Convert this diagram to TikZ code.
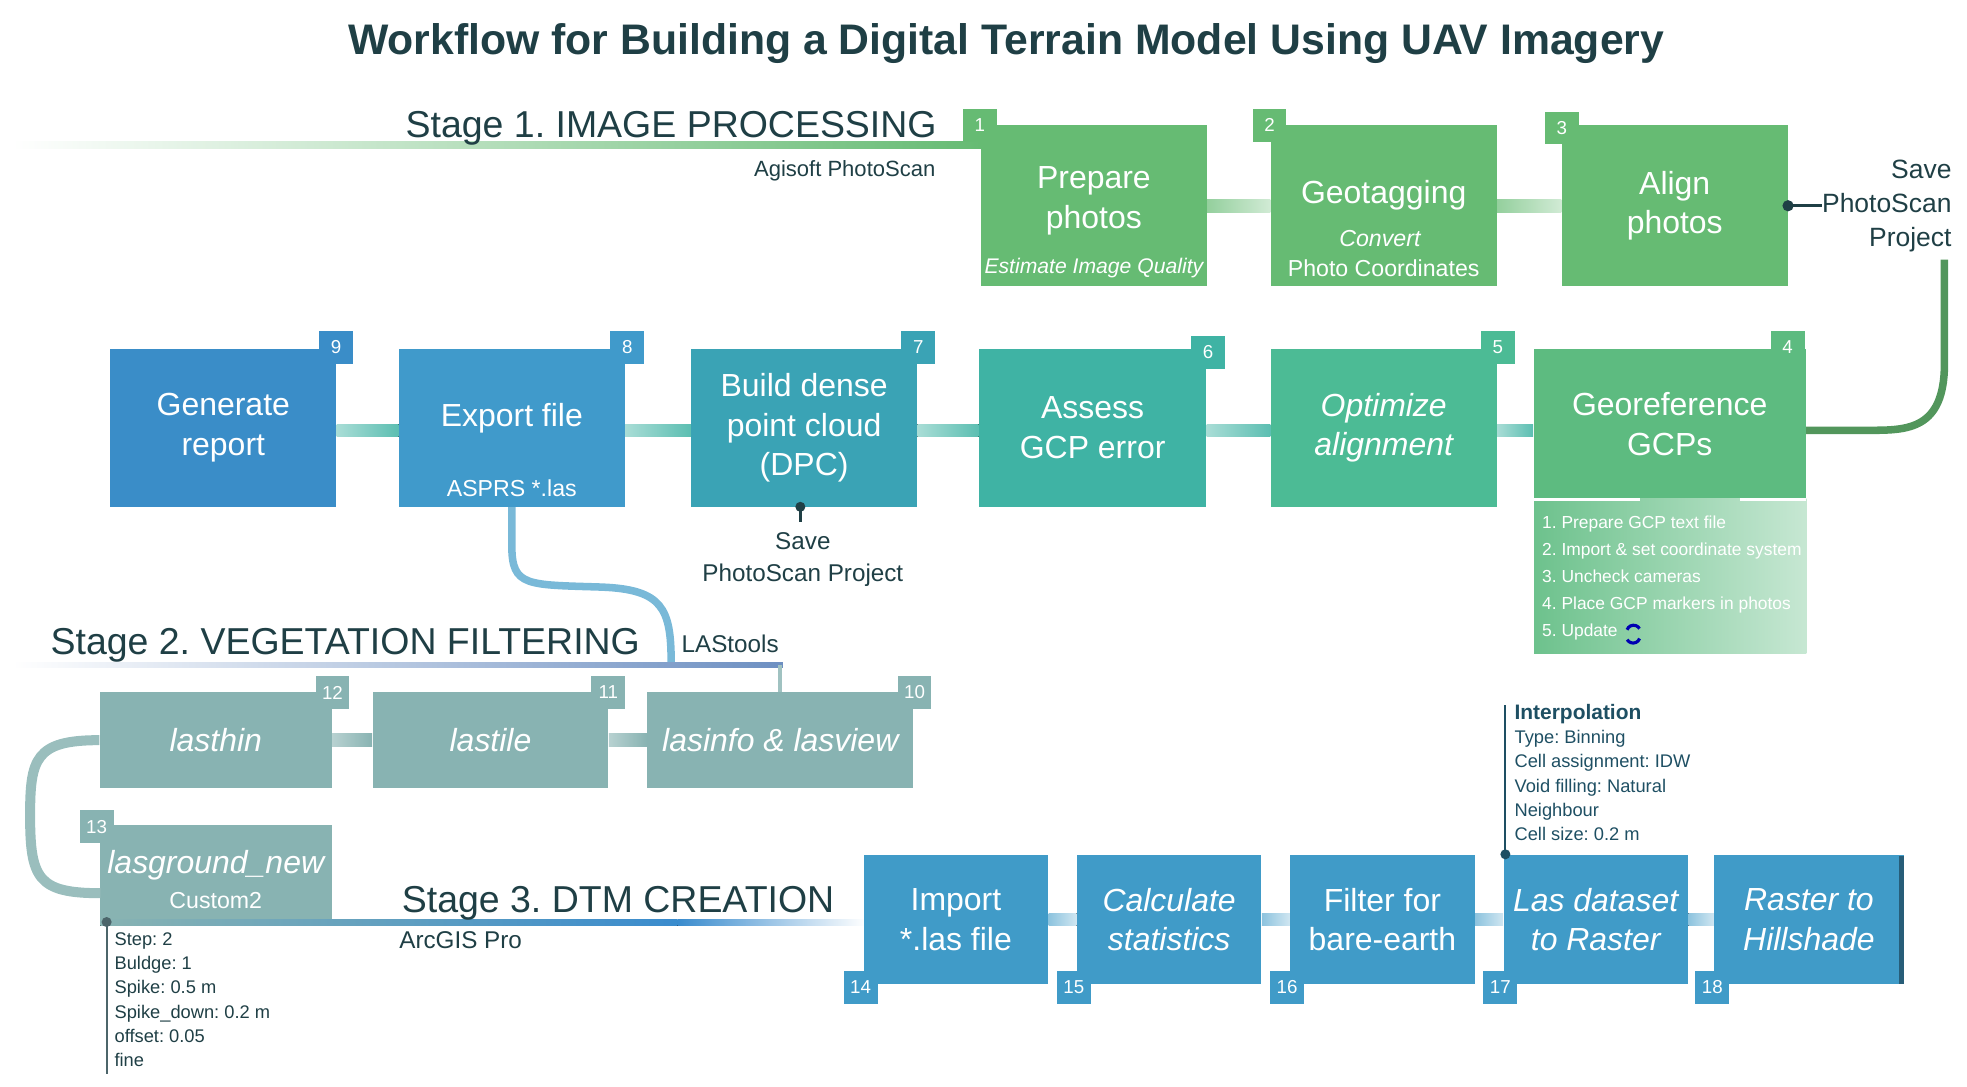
\documentclass[tikz,border=0pt]{standalone}
\usepackage{fontspec}
\setmainfont{Liberation Sans}
\usetikzlibrary{calc}
\definecolor{dk}{HTML}{1F3F45}
\definecolor{ca}{HTML}{66BB73}
\definecolor{cb4}{HTML}{5DBB80}
\definecolor{cb5}{HTML}{4CBB95}
\definecolor{cb6}{HTML}{3FB3A4}
\definecolor{cb7}{HTML}{3AA3B5}
\definecolor{cb8}{HTML}{409ACB}
\definecolor{cb9}{HTML}{3A8DC8}
\definecolor{cc}{HTML}{88B3B2}
\definecolor{cd}{HTML}{409BC8}
\definecolor{it}{HTML}{1E4F63}
\newcommand\fz[2]{\fontsize{#1}{#2}\selectfont}
\begin{document}
\frenchspacing
\begin{tikzpicture}[x=0.02cm,y=-0.02cm,
 box/.style={rectangle,inner sep=0,text=white,align=center,font=\fz{14.5}{18}},
 tab/.style={rectangle,inner sep=0,minimum width=0.54cm,minimum height=0.52cm,text=white,font=\fz{8.5}{10}},
 tx/.style={inner sep=0,text=white,align=center},
 small/.style={inner sep=0,text=dk,font=\fz{10}{12}},
 stage/.style={inner sep=0,text=dk,font=\fz{17}{20},anchor=base west}]
\useasboundingbox (0,0) rectangle (1568,866);
\node[inner sep=0,text=dk,font=\bfseries\fz{19.4}{22}] (title) at (802,35) {Workflow for Building a Digital Terrain Model Using UAV Imagery};

% ---------- Stage 1
\fill[left color=white,right color=ca] (10,113) rectangle (782,118);
\node[stage] (s1) at (323,110) {Stage 1. IMAGE PROCESSING};
\node[small,anchor=east] (ag) at (746,136) {Agisoft PhotoScan};

\node[box,fill=ca,minimum width=3.6cm,minimum height=2.56cm] (b1) at (872,164) {};
\node[box,fill=ca,minimum width=3.6cm,minimum height=2.56cm] (b2) at (1103,164) {};
\node[box,fill=ca,minimum width=3.6cm,minimum height=2.56cm] (b3) at (1335,164) {Align\\photos};
\node[tab,fill=ca] (t1) at (781,100) {1};
\node[tab,fill=ca] (t2) at (1012,100) {2};
\node[tab,fill=ca] (t3) at (1245,102) {3};
\node[tx,font=\fz{14.5}{18}] (b1t) at (872,160) {Prepare\\photos};
\node[tx,font=\itshape\fz{9.6}{12}] (b1s) at (872,214) {Estimate Image Quality};
\node[tx,font=\fz{14.5}{18}] (b2t) at (1103,156) {Geotagging};
\node[tx,font=\itshape\fz{10.5}{12}] (b2s) at (1100,190) {Convert};
\node[tx,font=\fz{10.5}{12}] (b2u) at (1103,214) {Photo Coordinates};
\fill[left color=ca!70,right color=ca!30] ($(b1.east)+(0,-5)$) rectangle ($(b2.west)+(0,5)$);
\fill[left color=ca!70,right color=ca!30] ($(b2.east)+(0,-5)$) rectangle ($(b3.west)+(0,5)$);
\node[inner sep=0,text=dk,align=right,anchor=east,font=\fz{12}{15.5}] (save1) at (1556,164) {Save\\PhotoScan\\Project};
\coordinate (s1e) at (1452,164);
\draw[dk,line width=0.05cm] (b3.east) -- (s1e);
\fill[dk] (b3.east) circle (4.5);

% ---------- Row 2
\node[box,fill=cb9,minimum width=3.6cm,minimum height=2.52cm] (b9) at (178,341) {Generate\\report};
\node[box,fill=cb8,minimum width=3.6cm,minimum height=2.52cm] (b8) at (408,341) {};
\node[box,fill=cb7,minimum width=3.6cm,minimum height=2.52cm] (b7) at (641,341) {Build dense\\point cloud\\(DPC)};
\node[box,fill=cb6,minimum width=3.62cm,minimum height=2.52cm] (b6) at (871,341) {Assess\\GCP error};
\node[box,fill=cb5,minimum width=3.6cm,minimum height=2.52cm] (b5) at (1103,341) {\itshape Optimize\\\itshape alignment};
\node[box,fill=cb4,minimum width=4.34cm,minimum height=2.38cm] (b4) at (1331,338) {Georeference\\GCPs};
\node[tab,fill=cb9] (t9) at (268,277) {9};
\node[tab,fill=cb8] (t8) at (500,277) {8};
\node[tab,fill=cb7] (t7) at (732,277) {7};
\node[tab,fill=cb6] (t6) at (963,281) {6};
\node[tab,fill=cb5] (t5) at (1194,277) {5};
\node[tab,fill=cb4] (t4) at (1425,277) {4};
\node[tx,font=\fz{14.5}{18}] (b8t) at (408,333) {Export file};
\node[tx,font=\fz{10.5}{12}] (b8s) at (408,389) {ASPRS *.las};
\shade[left color=cb4!90,right color=cb4!35] (1223,397) rectangle (1440,521);
\draw[white,line width=0.04cm] (1223,398) -- (1307,398) (1387,398) -- (1440,398);
\node[inner sep=0,text=white,align=left,anchor=north west,font=\fz{7.9}{12.2}] (list) at (1229,411)
 {1. Prepare GCP text file\\2. Import \& set coordinate system\\3. Uncheck cameras\\4. Place GCP markers in photos\\5. Update};
\draw[blue!70!black,line width=0.05cm] (1297,502) arc (200:330:5.5);
\draw[blue!70!black,line width=0.05cm] (1307,509) arc (20:150:5.5);

\foreach \a/\b in {b9/b8,b8/b7,b7/b6,b6/b5,b5/b4}
 \fill[left color=cb6!45,right color=cb6!85] ($(\a.east)+(0,-3)$) rectangle ($(\b.west |- \a.east)+(0,7)$);

\draw[ca!80!black,line width=0.12cm] (1550,207) -- (1550,290) .. controls (1550,343) and (1520,343) .. (1490,343) -- (b4.east |- 0,343);

\coordinate (d7) at (638,404);
\coordinate (sv7) at (638,416);
\draw[dk,line width=0.05cm] (d7) -- (sv7);
\fill[dk] (d7) circle (4);
\node[inner sep=0,text=dk,align=center,font=\fz{11}{14.5}] (save2) at (640,446) {Save\\PhotoScan Project};

% ---------- Stage 2
\draw[cd!70,line width=0.12cm] (b8.south) -- (408,435) .. controls (408,468) and (420,466) .. (480,468) .. controls (528,470) and (535,485) .. (535,528);
\fill[left color=white,right color=cc!80!blue] (10,528) rectangle (624,532);
\node[stage] (s2) at (40,522) {Stage 2. VEGETATION FILTERING};
\node[small,anchor=base west,font=\fz{11}{13}] (las) at (543,520) {LAStools};

\node[box,fill=cc,minimum width=3.7cm,minimum height=1.52cm,font=\itshape\fz{14.5}{18}] (b12) at (172,590) {lasthin};
\node[box,fill=cc,minimum width=3.76cm,minimum height=1.52cm,font=\itshape\fz{14.5}{18}] (b11) at (391,590) {lastile};
\node[box,fill=cc,minimum width=4.24cm,minimum height=1.52cm,font=\itshape\fz{14.5}{18}] (b10) at (622,590) {lasinfo \& lasview};
\node[box,fill=cc,minimum width=3.7cm,minimum height=1.54cm] (b13) at (172,696) {};
\node[tab,fill=cc] (t12) at (265,552) {12};
\node[tab,fill=cc] (t11) at (485,552) {11};
\node[tab,fill=cc] (t10) at (729,552) {10};
\node[tab,fill=cc] (t13) at (77,659) {13};
\node[tx,font=\itshape\fz{14.5}{18}] (b13t) at (172,690) {lasground\_new};
\node[tx,font=\fz{10.5}{12}] (b13s) at (172,718) {Custom2};
\draw[cc!80,line width=0.06cm] (622,530) -- (b10.north);
\foreach \a/\b in {b10/b11,b11/b12}
 \fill[left color=cc!60,right color=cc] ($(\b.east)+(0,-5)$) rectangle ($(\a.west)+(0,5)$);
\draw[cc!85,line width=0.16cm] (b12.west) .. controls (28,590) and (24,605) .. (24,650) .. controls (24,700) and (30,712) .. (80,712);

% ---------- Stage 3
\fill[left color=cc,right color=cd!90!blue] (80,733) rectangle (540,738);
\fill[left color=cd!90!blue,right color=white] (540,733) rectangle (690,738);
\node[stage] (s3) at (320,727) {Stage 3. DTM CREATION};
\node[small,anchor=base west,font=\fz{11}{13}] (arc) at (318,756) {ArcGIS Pro};
\coordinate (p0) at (85,735);
\coordinate (p1) at (85,856);
\draw[dk!80,line width=0.03cm] (p0) -- (p1);
\fill[dk!80] (p0) circle (4);
\node[inner sep=0,text=dk,align=left,anchor=north west,font=\fz{8.3}{11}] (par) at (91,743)
 {Step: 2\\Buldge: 1\\Spike: 0.5 m\\Spike\_down: 0.2 m\\offset: 0.05\\fine};

\node[box,fill=cd,minimum width=2.94cm,minimum height=2.06cm] (b14) at (762,733) {Import\\*.las file};
\node[box,fill=cd,minimum width=2.94cm,minimum height=2.06cm] (b15) at (932,733) {\itshape Calculate\\\itshape statistics};
\node[box,fill=cd,minimum width=2.94cm,minimum height=2.06cm] (b16) at (1102,733) {Filter for\\bare-earth};
\node[box,fill=cd,minimum width=2.94cm,minimum height=2.06cm] (b17) at (1272,733) {\itshape Las dataset\\\itshape to Raster};
\node[box,fill=cd,minimum width=3.02cm,minimum height=2.06cm] (b18) at (1442,733) {\itshape Raster to\\\itshape Hillshade};
\node[tab,fill=cd] (t14) at (686,787) {14};
\node[tab,fill=cd] (t15) at (856,787) {15};
\node[tab,fill=cd] (t16) at (1026,787) {16};
\node[tab,fill=cd] (t17) at (1196,787) {17};
\node[tab,fill=cd] (t18) at (1365,787) {18};
\fill[cd!60!black] (1514,682) rectangle (1518,784);
\foreach \a/\b in {b14/b15,b15/b16,b16/b17,b17/b18}
 \fill[left color=cd!60,right color=cd!25] ($(\a.east)+(0,-5)$) rectangle ($(\b.west)+(0,5)$);
\coordinate (i0) at (1200,681);
\coordinate (i1) at (1200,562);
\draw[it,line width=0.03cm] (i0) -- (i1);
\fill[it] (i0) circle (4);
\node[inner sep=0,text=it,align=left,anchor=north west,font=\fz{8.3}{11}] (interp) at (1207,561)
 {\bfseries\fz{9.5}{11}Interpolation\\Type: Binning\\Cell assignment: IDW\\Void filling: Natural\\Neighbour\\Cell size: 0.2 m};
\end{tikzpicture}
\end{document}
